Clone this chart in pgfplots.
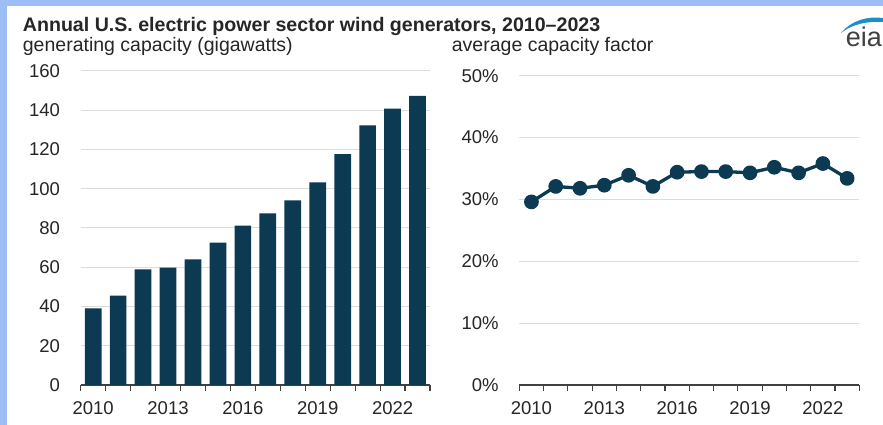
\documentclass[border=0pt]{standalone}
\usepackage{pgfplots}
\pgfplotsset{compat=1.18}
\usepackage{fontspec}
\setmainfont{Liberation Sans}
\definecolor{barc}{HTML}{0B3A52}
\definecolor{txt}{HTML}{262626}
\definecolor{axisc}{HTML}{404040}
\definecolor{gridc}{HTML}{DCDCDC}
\definecolor{borderc}{HTML}{9DBEF5}
\definecolor{logoblue}{HTML}{1A8FC9}
\pgfplotsset{
  eia/.style={
    scale only axis,
    anchor=south west,
    xmin=2009.5, xmax=2023.5, ymin=0,
    axis x line=bottom, axis y line=left,
    axis line style={-},
    y axis line style={draw=none},
    x axis line style={draw=axisc, line width=1.2pt},
    ymajorgrids,
    grid style={draw=gridc, line width=1pt},
    xtick={2009.5,2010.5,...,2023.5},
    xticklabels={},
    extra x ticks={2010,2013,2016,2019,2022},
    extra x tick labels={2010,2013,2016,2019,2022},
    extra x tick style={major tick length=0pt, tick style={draw=none}},
    xtick align=outside,
    major tick length=6pt,
    x tick style={draw=axisc, line width=1.2pt},
    y tick style={draw=none},
    tick label style={font=\fontsize{18.5}{20}\selectfont, text=txt, inner sep=0pt},
    /pgf/number format/assume math mode=true,
    x tick label style={anchor=north, yshift=-16pt},
    y tick label style={anchor=east, xshift=-17.5pt},
    clip=false,
  }
}
\begin{document}
\begin{tikzpicture}[x=1pt,y=1pt]
\useasboundingbox (0,0) rectangle (883,425);
\fill[white] (0,0) rectangle (883,425);
\fill[borderc] (0,0) rectangle (7,425);
\fill[borderc] (0,419) rectangle (883,425);
\node[anchor=base west, inner sep=0, text=txt, font=\fontsize{19.6}{22}\selectfont\bfseries] at (22.7,393) {Annual U.S. electric power sector wind generators, 2010–2023};
\node[anchor=base west, inner sep=0, text=txt, font=\fontsize{19.5}{22}\selectfont] at (22.7,373) {generating capacity (gigawatts)};
\node[anchor=base west, inner sep=0, text=txt, font=\fontsize{19.5}{22}\selectfont] at (451.7,373) {average capacity factor};
% logo
\node[anchor=base east, inner sep=0, text=axisc, font=\fontsize{27}{27}\selectfont] at (882,378) {eia};
\fill[logoblue] (841,392) .. controls (852,405) and (868,409) .. (883,407) -- (883,403) .. controls (868,404) and (852,401) .. cycle;

\begin{axis}[eia, at={(80.7pt,40pt)}, width=349.3pt, height=314pt,
  ymax=160, ytick={0,20,...,160}]
\addplot[ybar, bar width=16.7pt, fill=barc, draw=none] coordinates {
(2010,39.1) (2011,45.5) (2012,58.9) (2013,59.8) (2014,64.0) (2015,72.5) (2016,81.2)
(2017,87.5) (2018,94.1) (2019,103.3) (2020,117.7) (2021,132.3) (2022,140.8) (2023,147.3)};
\end{axis}

\begin{axis}[eia, at={(519.3pt,40pt)}, width=340pt, height=309.3pt,
  ymax=50, ytick={0,10,...,50},
  yticklabel={\pgfmathprintnumber{\tick}\%}]
\addplot[color=barc, line width=3.3pt, line join=round, mark=*, mark size=5.7pt, mark options={fill=barc, draw=none, solid}] coordinates {
(2010,29.6) (2011,32.1) (2012,31.8) (2013,32.3) (2014,33.9) (2015,32.1) (2016,34.4)
(2017,34.5) (2018,34.5) (2019,34.3) (2020,35.2) (2021,34.3) (2022,35.8) (2023,33.4)};
\end{axis}
\end{tikzpicture}
\end{document}
